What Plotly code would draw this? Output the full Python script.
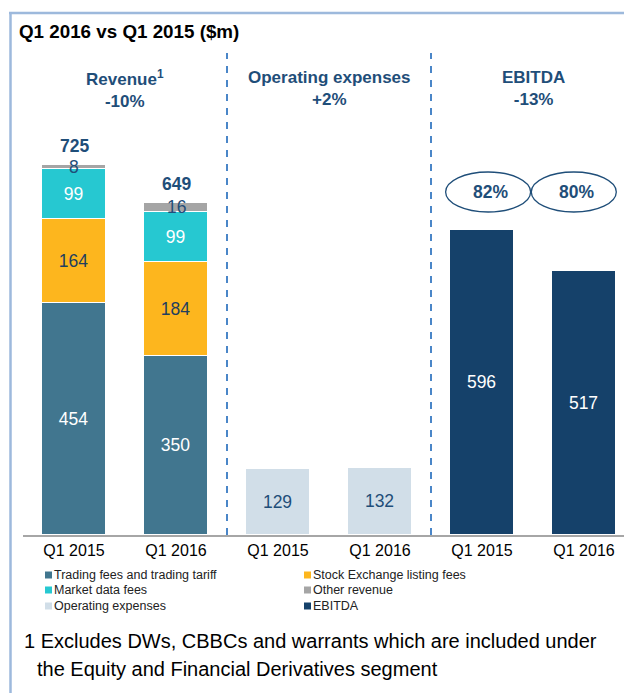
import plotly.graph_objects as go

# ---- data ----
categories = ["Q1 2015", "Q1 2016", "Q1 2015", "Q1 2016", "Q1 2015", "Q1 2016"]
trading = [454, 350]
listing = [164, 184]
market = [99, 99]
other = [8, 16]
opex = [129, 132]
ebitda = [596, 517]

rev_x = [0, 1]
opex_x = [2, 3]
ebitda_x = [4, 5]

series_names = ["Trading fees and trading tariff", "Stock Exchange listing fees",
                "Market data fees", "Other revenue", "Operating expenses", "EBITDA"]
series_colors = ["#41768F", "#FDB61E", "#26C8D1", "#A5A5A5", "#D1DEE8", "#15416A"]

DARK = "#1F4E79"
FONT = "Liberation Sans, Arial, sans-serif"
NUM = 17.5

totals = [a + b + c + d for a, b, c, d in zip(trading, listing, market, other)]
margins = [e / t * 100 for e, t in zip(ebitda, totals)]
rev_chg = (totals[1] - totals[0]) / totals[0] * 100
opex_chg = (opex[1] - opex[0]) / opex[0] * 100
ebitda_chg = (ebitda[1] - ebitda[0]) / ebitda[0] * 100

W, H = 624, 693
L, R, T, B = 23, 0, 40, 158
plot_h = H - T - B
px_per_unit = 0.511
ymax = plot_h / px_per_unit
unit_px = 102
xmax = -0.5 + (W - L - R) / unit_px

def px_x(p):
    return (p - L) / (W - L - R)

def px_y(p):
    return (H - B - p) / plot_h

bw = 0.63
line = dict(color="white", width=1)
tf = dict(family=FONT, size=NUM)

fig = go.Figure()
fig.add_bar(x=rev_x, y=trading, name=series_names[0], width=bw,
            marker=dict(color=series_colors[0], line=line), text=trading,
            textposition="inside", insidetextanchor="middle",
            textfont=dict(tf, color="white"), hoverinfo="y")
fig.add_bar(x=rev_x, y=listing, name=series_names[1], width=bw,
            marker=dict(color=series_colors[1], line=line), text=listing,
            textposition="inside", insidetextanchor="middle",
            textfont=dict(tf, color="#1F3F5F"), hoverinfo="y")
fig.add_bar(x=rev_x, y=market, name=series_names[2], width=bw,
            marker=dict(color=series_colors[2], line=line), text=market,
            textposition="inside", insidetextanchor="middle",
            textfont=dict(tf, color="white"), hoverinfo="y")
fig.add_bar(x=rev_x, y=other, name=series_names[3], width=bw,
            marker=dict(color=series_colors[3], line=line), hoverinfo="y")
fig.add_bar(x=opex_x, y=opex, name=series_names[4], width=bw,
            marker=dict(color=series_colors[4], line=line), text=opex,
            textposition="inside", insidetextanchor="middle",
            textfont=dict(tf, color=DARK), hoverinfo="y")
fig.add_bar(x=ebitda_x, y=ebitda, name=series_names[5], width=bw,
            marker=dict(color=series_colors[5], line=line), text=ebitda,
            textposition="inside", insidetextanchor="middle",
            textfont=dict(tf, color="white"), hoverinfo="y")

ann = []
shapes = []
# other revenue labels
for xi, a, b, c, d in zip(rev_x, trading, listing, market, other):
    ann.append(dict(x=xi, y=a + b + c + d / 2, text=str(d), showarrow=False,
                    font=dict(family=FONT, size=NUM, color=DARK), yanchor="middle"))
# totals
for xi, t in zip(rev_x, totals):
    ann.append(dict(x=xi, y=t, text="<b>%d</b>" % t, showarrow=False, yanchor="bottom",
                    yshift=7, font=dict(family=FONT, size=NUM, color=DARK)))
# section headers
def sgn(v):
    return ("+%d%%" if round(v) > 0 else "%d%%") % round(v)
heads = [(0.5, "Revenue<sup>1</sup>", rev_chg), (2.5, "Operating expenses", opex_chg),
         (4.5, "EBITDA", ebitda_chg)]
for xc, name, chg in heads:
    ann.append(dict(x=xc, xref="x", y=px_y(89), yref="paper", text="<b>%s<br>%s</b>" % (name, sgn(chg)),
                    showarrow=False, font=dict(family=FONT, size=17, color=DARK), yanchor="middle"))
# title
ann.append(dict(x=px_x(17), xref="paper", y=px_y(32), yref="paper", xanchor="left", yanchor="middle",
                text="<b>Q1 2016 vs Q1 2015 ($m)</b>", showarrow=False,
                font=dict(family=FONT, size=18.8, color="black")))
# margin ellipses
offs_text = [0.08, -0.07]
offs_ell = [0.06, -0.10]
ey = (H - B - 192) / px_per_unit
eh = 40 / px_per_unit / 2
ew = 85 / unit_px / 2
for xi, m, ot, oe in zip(ebitda_x, margins, offs_text, offs_ell):
    ann.append(dict(x=xi + ot, y=ey, text="<b>%d%%</b>" % round(m), showarrow=False,
                    font=dict(family=FONT, size=NUM, color=DARK)))
    shapes.append(dict(type="circle", xref="x", yref="y", x0=xi + oe - ew, x1=xi + oe + ew,
                       y0=ey - eh, y1=ey + eh, line=dict(color="#1F4E79", width=1.3)))
# legend (compact, two columns)
leg_pos = [(45, 575), (304, 575), (45, 590), (304, 590), (45, 606), (304, 606)]
for (lx, ly), nm, col in zip(leg_pos, series_names, series_colors):
    shapes.append(dict(type="rect", xref="paper", yref="paper", x0=px_x(lx), x1=px_x(lx + 7),
                       y0=px_y(ly + 3.5), y1=px_y(ly - 3.5), fillcolor=col, line=dict(width=0)))
    ann.append(dict(x=px_x(lx + 8), xref="paper", y=px_y(ly), yref="paper", xanchor="left", yanchor="middle",
                    text=nm, showarrow=False, borderpad=0,
                    font=dict(family=FONT, size=12.5, color="#222")))
# footnote
ann.append(dict(x=px_x(22), xref="paper", y=px_y(641), yref="paper", xanchor="left", yanchor="middle",
                text="1 Excludes DWs, CBBCs and warrants which are included under", showarrow=False,
                font=dict(family=FONT, size=20, color="black")))
ann.append(dict(x=px_x(35), xref="paper", y=px_y(669), yref="paper", xanchor="left", yanchor="middle",
                text="the Equity and Financial Derivatives segment", showarrow=False,
                font=dict(family=FONT, size=20, color="black")))

# separators
for xs in [1.5, 3.5]:
    shapes.append(dict(type="line", xref="x", yref="paper", x0=xs, x1=xs, y0=0, y1=px_y(53),
                       line=dict(color="#4A86C8", width=2, dash="7px,7px")))
# frame
frame_c = "#9DB9DC"
shapes.append(dict(type="line", xref="paper", yref="paper", x0=px_x(9), x1=px_x(W + 5),
                   y0=px_y(13), y1=px_y(13), line=dict(color=frame_c, width=2.5)))
shapes.append(dict(type="line", xref="paper", yref="paper", x0=px_x(10.5), x1=px_x(10.5),
                   y0=px_y(12), y1=px_y(H + 5), line=dict(color=frame_c, width=2.5)))

fig.update_layout(
    width=W, height=H, barmode="stack", bargap=0,
    margin=dict(l=L, r=R, t=T, b=B),
    plot_bgcolor="white", paper_bgcolor="white",
    font=dict(family=FONT, color="black"),
    annotations=ann, shapes=shapes,
    xaxis=dict(range=[-0.5, xmax], tickmode="array", tickvals=list(range(6)), ticktext=categories,
               showline=True, linecolor="#A6A6A6", linewidth=1.5, showgrid=False, zeroline=False,
               ticks="", tickfont=dict(family=FONT, size=16, color="black"), fixedrange=True),
    yaxis=dict(range=[0, ymax], visible=False, fixedrange=True),
    showlegend=False,
)

fig.write_html("out.html", config={"displayModeBar": False},
               post_script="document.body.style.margin='0px';document.body.style.overflow='hidden';")
